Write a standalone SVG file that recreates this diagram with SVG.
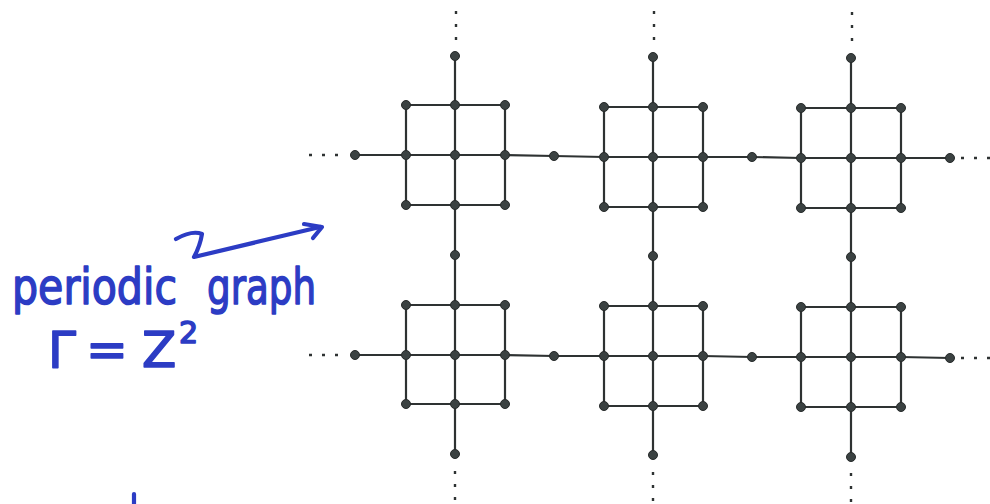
<svg xmlns="http://www.w3.org/2000/svg" width="990" height="504" viewBox="0 0 990 504">
<style>
.e{fill:none;stroke:#2e3232;stroke-width:2.2;stroke-linejoin:round}
.d{fill:none;stroke:#2e3232;stroke-width:2.4;stroke-dasharray:3 10}
.n circle{fill:#3b4242;stroke:#262a2a;stroke-width:1}
.hw{fill:#2c3cc4;stroke:#2c3cc4;stroke-width:1.6;stroke-linejoin:round;font-family:"DejaVu Sans","Noto Sans",sans-serif}
.hs{fill:none;stroke:#2c3cc4;stroke-width:4.2;stroke-linecap:round;stroke-linejoin:round}
</style>
<rect width="990" height="504" fill="#fff"/>
<g id="connectors">
<polyline class="e" points="355,155 406,155 455,155 505,155 554,156 604,157 653,157 703,157 752,157 801,158 851,158 901,158 950,158"/>
<polyline class="e" points="355,355 406,355 455,355 505,355 554,356 604,356 653,356 703,356 752,357 801,357 851,357 901,357 950,358"/>
<polyline class="e" points="406,105 505,105"/><polyline class="e" points="406,205 505,205"/>
<polyline class="e" points="604,107 703,107"/><polyline class="e" points="604,207 703,207"/>
<polyline class="e" points="801,108 901,108"/><polyline class="e" points="801,208 901,208"/>
<polyline class="e" points="406,305 505,305"/><polyline class="e" points="406,404 505,404"/>
<polyline class="e" points="604,306 703,306"/><polyline class="e" points="604,406 703,406"/>
<polyline class="e" points="801,307 901,307"/><polyline class="e" points="801,407 901,407"/>
<polyline class="e" points="406,105 406,205"/><polyline class="e" points="505,105 505,205"/>
<polyline class="e" points="604,107 604,207"/><polyline class="e" points="703,107 703,207"/>
<polyline class="e" points="801,108 801,208"/><polyline class="e" points="901,108 901,208"/>
<polyline class="e" points="406,305 406,404"/><polyline class="e" points="505,305 505,404"/>
<polyline class="e" points="604,306 604,406"/><polyline class="e" points="703,306 703,406"/>
<polyline class="e" points="801,307 801,407"/><polyline class="e" points="901,307 901,407"/>
<polyline class="e" points="455,56 455,105 455,155 455,205 455,255 455,305 455,355 455,404 455,454"/>
<polyline class="e" points="653,57 653,107 653,157 653,207 653,256 653,306 653,356 653,406 653,455"/>
<polyline class="e" points="851,58 851,108 851,158 851,208 851,257 851,307 851,357 851,407 851,457"/>
<line class="d" x1="456" y1="11" x2="456" y2="44"/>
<line class="d" x1="654" y1="11" x2="654" y2="45"/>
<line class="d" x1="852" y1="12" x2="852" y2="46"/>
<line class="d" x1="455" y1="471" x2="455" y2="504"/>
<line class="d" x1="653" y1="472" x2="653" y2="504"/>
<line class="d" x1="851" y1="473" x2="851" y2="504"/>
<line class="d" x1="309" y1="155" x2="345" y2="155"/>
<line class="d" x1="309" y1="355" x2="345" y2="355"/>
<line class="d" x1="961" y1="158" x2="990" y2="158"/>
<line class="d" x1="961" y1="358" x2="990" y2="358"/>
</g>
<g class="n">
<g id="t1"><circle cx="455" cy="56" r="4.5"/></g>
<g id="t2"><circle cx="653" cy="57" r="4.5"/></g>
<g id="t3"><circle cx="851" cy="58" r="4.5"/></g>
<g id="m1"><circle cx="455" cy="255" r="4.5"/></g>
<g id="m2"><circle cx="653" cy="256" r="4.5"/></g>
<g id="m3"><circle cx="851" cy="257" r="4.5"/></g>
<g id="u1"><circle cx="455" cy="454" r="4.5"/></g>
<g id="u2"><circle cx="653" cy="455" r="4.5"/></g>
<g id="u3"><circle cx="851" cy="457" r="4.5"/></g>
<g id="l1"><circle cx="355" cy="155" r="4.5"/></g>
<g id="h11"><circle cx="554" cy="156" r="4.5"/></g>
<g id="h12"><circle cx="752" cy="157" r="4.5"/></g>
<g id="r1"><circle cx="950" cy="158" r="4.5"/></g>
<g id="l2"><circle cx="355" cy="355" r="4.5"/></g>
<g id="h21"><circle cx="554" cy="356" r="4.5"/></g>
<g id="h22"><circle cx="752" cy="357" r="4.5"/></g>
<g id="r2"><circle cx="950" cy="358" r="4.5"/></g>
<g id="b1-11"><circle cx="406" cy="105" r="4.5"/></g><g id="b1-12"><circle cx="455" cy="105" r="4.5"/></g><g id="b1-13"><circle cx="505" cy="105" r="4.5"/></g>
<g id="b1-21"><circle cx="406" cy="155" r="4.5"/></g><g id="b1-22"><circle cx="455" cy="155" r="4.5"/></g><g id="b1-23"><circle cx="505" cy="155" r="4.5"/></g>
<g id="b1-31"><circle cx="406" cy="205" r="4.5"/></g><g id="b1-32"><circle cx="455" cy="205" r="4.5"/></g><g id="b1-33"><circle cx="505" cy="205" r="4.5"/></g>
<g id="b2-11"><circle cx="604" cy="107" r="4.5"/></g><g id="b2-12"><circle cx="653" cy="107" r="4.5"/></g><g id="b2-13"><circle cx="703" cy="107" r="4.5"/></g>
<g id="b2-21"><circle cx="604" cy="157" r="4.5"/></g><g id="b2-22"><circle cx="653" cy="157" r="4.5"/></g><g id="b2-23"><circle cx="703" cy="157" r="4.5"/></g>
<g id="b2-31"><circle cx="604" cy="207" r="4.5"/></g><g id="b2-32"><circle cx="653" cy="207" r="4.5"/></g><g id="b2-33"><circle cx="703" cy="207" r="4.5"/></g>
<g id="b3-11"><circle cx="801" cy="108" r="4.5"/></g><g id="b3-12"><circle cx="851" cy="108" r="4.5"/></g><g id="b3-13"><circle cx="901" cy="108" r="4.5"/></g>
<g id="b3-21"><circle cx="801" cy="158" r="4.5"/></g><g id="b3-22"><circle cx="851" cy="158" r="4.5"/></g><g id="b3-23"><circle cx="901" cy="158" r="4.5"/></g>
<g id="b3-31"><circle cx="801" cy="208" r="4.5"/></g><g id="b3-32"><circle cx="851" cy="208" r="4.5"/></g><g id="b3-33"><circle cx="901" cy="208" r="4.5"/></g>
<g id="b4-11"><circle cx="406" cy="305" r="4.5"/></g><g id="b4-12"><circle cx="455" cy="305" r="4.5"/></g><g id="b4-13"><circle cx="505" cy="305" r="4.5"/></g>
<g id="b4-21"><circle cx="406" cy="355" r="4.5"/></g><g id="b4-22"><circle cx="455" cy="355" r="4.5"/></g><g id="b4-23"><circle cx="505" cy="355" r="4.5"/></g>
<g id="b4-31"><circle cx="406" cy="404" r="4.5"/></g><g id="b4-32"><circle cx="455" cy="404" r="4.5"/></g><g id="b4-33"><circle cx="505" cy="404" r="4.5"/></g>
<g id="b5-11"><circle cx="604" cy="306" r="4.5"/></g><g id="b5-12"><circle cx="653" cy="306" r="4.5"/></g><g id="b5-13"><circle cx="703" cy="306" r="4.5"/></g>
<g id="b5-21"><circle cx="604" cy="356" r="4.5"/></g><g id="b5-22"><circle cx="653" cy="356" r="4.5"/></g><g id="b5-23"><circle cx="703" cy="356" r="4.5"/></g>
<g id="b5-31"><circle cx="604" cy="406" r="4.5"/></g><g id="b5-32"><circle cx="653" cy="406" r="4.5"/></g><g id="b5-33"><circle cx="703" cy="406" r="4.5"/></g>
<g id="b6-11"><circle cx="801" cy="307" r="4.5"/></g><g id="b6-12"><circle cx="851" cy="307" r="4.5"/></g><g id="b6-13"><circle cx="901" cy="307" r="4.5"/></g>
<g id="b6-21"><circle cx="801" cy="357" r="4.5"/></g><g id="b6-22"><circle cx="851" cy="357" r="4.5"/></g><g id="b6-23"><circle cx="901" cy="357" r="4.5"/></g>
<g id="b6-31"><circle cx="801" cy="407" r="4.5"/></g><g id="b6-32"><circle cx="851" cy="407" r="4.5"/></g><g id="b6-33"><circle cx="901" cy="407" r="4.5"/></g>
</g>
<g id="annotation">
<text class="hw" x="12" y="304" font-size="50" textLength="165" lengthAdjust="spacingAndGlyphs">periodic</text>
<text class="hw" x="207" y="304" font-size="50" textLength="109" lengthAdjust="spacingAndGlyphs">graph</text>
<text class="hw" font-size="50"><tspan x="48" y="367">Γ</tspan><tspan x="86">=</tspan><tspan x="142">Z</tspan><tspan x="179" y="343" font-size="30">2</tspan></text>
<path class="hs" d="M176,239 Q192,230 202,234 Q200,246 194,257 L320,227"/>
<path class="hs" d="M304,224 L322,227 L313,238"/>
<line class="hs" x1="134" y1="494" x2="134" y2="504"/>
</g>
</svg>
